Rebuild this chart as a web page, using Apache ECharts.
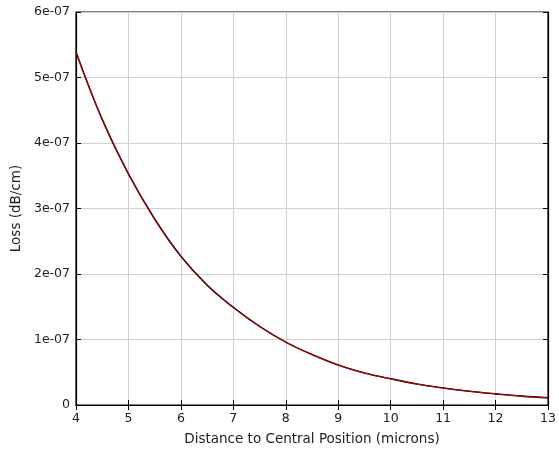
<!DOCTYPE html>
<html>
<head>
<meta charset="utf-8">
<script src="https://cdn.jsdelivr.net/npm/echarts@6/dist/echarts.min.js"></script>
<style>html,body{margin:0;padding:0;background:#fff}#c{width:559px;height:457px}</style>
</head>
<body>
<div id="c"></div>
<script>
const xValues = [4, 4.5, 5, 5.5, 6, 6.5, 7, 7.5, 8, 8.5, 9, 9.5, 10, 10.5, 11, 11.5, 12, 12.5, 13];
const lossValues = [5.39e-7, 4.36e-7, 3.53e-7, 2.84e-7, 2.27e-7, 1.83e-7, 1.49e-7, 1.20e-7, 0.96e-7, 0.77e-7, 0.61e-7, 0.49e-7, 0.40e-7, 0.32e-7, 0.26e-7, 0.21e-7, 0.17e-7, 0.135e-7, 0.11e-7];
const xTicks = [4, 5, 6, 7, 8, 9, 10, 11, 12, 13];
const yTicks = ['0', '1e-07', '2e-07', '3e-07', '4e-07', '5e-07', '6e-07'];
const xName = 'Distance to Central Position (microns)';
const yName = 'Loss (dB/cm)';

const font = 'DejaVu Sans';
const data = xValues.map((x, i) => [x, lossValues[i]]);
const chart = echarts.init(document.getElementById('c'));
const yFmt = v => { const k = Math.round(v / 1e-7); return yTicks[k] !== undefined ? yTicks[k] : ''; };
const axLine = {show: true, lineStyle: {color: '#000', width: 1.2}};
chart.setOption({
  animation: false,
  backgroundColor: '#fff',
  grid: {left: 76, right: 11, top: 12, bottom: 52, containLabel: false, outerBoundsMode: 'none',
    show: true, borderColor: '#000', borderWidth: 1.2},
  xAxis: [{
    type: 'value', min: 4, max: 13, interval: 1, z: 1,
    name: xName, nameLocation: 'middle', nameGap: 27,
    nameTextStyle: {fontFamily: font, fontSize: 13.5, color: '#222'},
    axisLine: axLine,
    axisTick: {show: true, inside: true, length: 5, lineStyle: {color: '#000'}},
    axisLabel: {fontFamily: font, fontSize: 12.5, color: '#222', margin: 7,
      formatter: v => xTicks.includes(v) ? String(v) : ''},
    splitLine: {show: true, lineStyle: {color: '#d0d0d0', width: 1}}
  }, {
    type: 'value', min: 4, max: 13, interval: 1, position: 'top', z: 5,
    axisLine: axLine, axisTick: {show: true, inside: true, length: 5, lineStyle: {color: '#000'}},
    axisLabel: {show: false}, splitLine: {show: false}
  }],
  yAxis: [{
    type: 'value', min: 0, max: 6e-7, interval: 1e-7, z: 1,
    name: yName, nameLocation: 'middle', nameGap: 52,
    nameTextStyle: {fontFamily: font, fontSize: 13.5, color: '#222'},
    axisLine: axLine,
    axisTick: {show: true, inside: true, length: 5, lineStyle: {color: '#000'}},
    axisLabel: {fontFamily: font, fontSize: 12.5, color: '#222', margin: 6, formatter: yFmt},
    splitLine: {show: true, lineStyle: {color: '#d0d0d0', width: 1}}
  }, {
    type: 'value', min: 0, max: 6e-7, interval: 1e-7, position: 'right', z: 5,
    axisLine: axLine, axisTick: {show: true, inside: true, length: 5, lineStyle: {color: '#000'}},
    axisLabel: {show: false}, splitLine: {show: false}
  }],
  series: [{
    type: 'line', data: data, smooth: 0.4, showSymbol: false, z: 3,
    lineStyle: {color: '#000', width: 1.6}
  }, {
    type: 'line', data: data, smooth: 0.4, showSymbol: false, z: 4,
    lineStyle: {color: '#e00000', width: 0.9}
  }]
});
</script>
</body>
</html>
